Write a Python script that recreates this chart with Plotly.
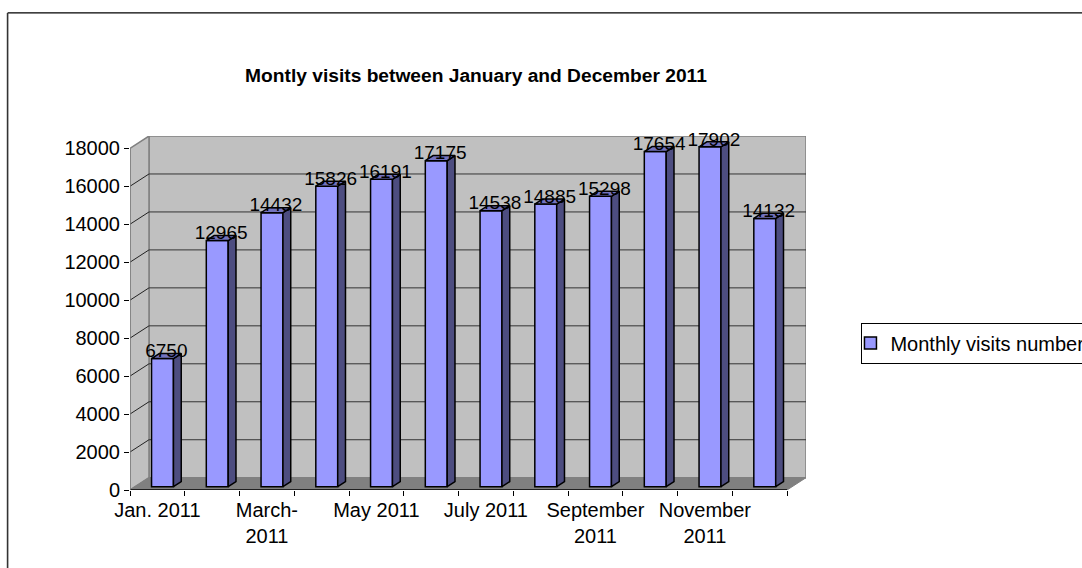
import plotly.graph_objects as go

months = ["Jan. 2011", "Feb. 2011", "March-2011", "April 2011", "May 2011", "June 2011",
          "July 2011", "August 2011", "September 2011", "October 2011", "November 2011", "December 2011"]
visits = [6750, 12965, 14432, 15826, 16191, 17175, 14538, 14885, 15298, 17654, 17902, 14132]
label_positions = [0.5, 2.5, 4.5, 6.5, 8.5, 10.5]
label_texts = ["Jan. 2011", "March-<br>2011", "May 2011", "July 2011", "September<br>2011", "November<br>2011"]
y_ticks = list(range(0, 18001, 2000))
series_name = "Monthly visits number"

W, H = 1130, 568
PX_L, PX_R, PX_B, PX_T = 130.0, 787.5, 490.0, 148.0
DX, DY = 19.0, 12.3
n = len(months)
ux = (PX_R - PX_L) / n
uy = (PX_B - PX_T) / 18000
x_max = n + DX / ux
y_max = 18000 + DY / uy
dxu, dyu = DX / ux, DY / uy
plot_w = x_max * ux
plot_h = y_max * uy


def fx(px):
    return (px - PX_L) / plot_w


def fy(py):
    return (PX_B - py) / plot_h


def proj(c, v, d):
    return c + d * dxu, v + d * dyu


def path(pts):
    return "M" + " L".join(f"{a},{b}" for a, b in pts) + " Z"


shapes = []
wall = "#C0C0C0"
edge = "#808080"
shapes.append(dict(type="path", layer="below", xref="x", yref="y", fillcolor=wall, line=dict(color=edge, width=1.5),
                   path=path([proj(0, 0, 1), proj(n, 0, 1), proj(n, 18000, 1), proj(0, 18000, 1)])))
shapes.append(dict(type="path", layer="below", xref="x", yref="y", fillcolor=wall, line=dict(color=edge, width=1.5),
                   path=path([proj(0, 0, 0), proj(0, 0, 1), proj(0, 18000, 1), proj(0, 18000, 0)])))
shapes.append(dict(type="path", layer="below", xref="x", yref="y", fillcolor=edge, line=dict(color=edge, width=1),
                   path=path([proj(0, 0, 0), proj(n, 0, 0), proj(n, 0, 1), proj(0, 0, 1)])))
for t in y_ticks[1:-1]:
    p0, p1, p2 = proj(0, t, 0), proj(0, t, 1), proj(n, t, 1)
    shapes.append(dict(type="line", layer="below", xref="x", yref="y", x0=p0[0], y0=p0[1], x1=p1[0], y1=p1[1],
                       line=dict(color="#222222", width=1)))
    shapes.append(dict(type="line", layer="below", xref="x", yref="y", x0=p1[0], y0=p1[1], x1=p2[0], y1=p2[1],
                       line=dict(color="#333333", width=1)))
shapes.append(dict(type="line", xref="x", yref="y", x0=0, y0=0, x1=n, y1=0, line=dict(color="black", width=1.3)))
shapes.append(dict(type="line", xref="x", yref="y", x0=0, y0=0, x1=0, y1=18000, line=dict(color=edge, width=1.3)))
# chart-area frame: only left and top sides are visible in the crop
shapes.append(dict(type="line", xref="paper", yref="paper", x0=fx(7.5), x1=fx(W), y0=fy(12.5), y1=fy(12.5),
                   line=dict(color="black", width=1.3), layer="below"))
shapes.append(dict(type="line", xref="paper", yref="paper", x0=fx(7.5), x1=fx(7.5), y0=fy(12.5), y1=fy(H),
                   line=dict(color="#333333", width=1.6), layer="below"))

BAR_W, D0, D1 = 0.4, 0.27, 0.68
fig = go.Figure()
cent = [i + 0.5 for i in range(n)]
fig.add_trace(go.Bar(x=[proj(c, 0, D0)[0] for c in cent], y=visits, base=D0 * dyu, width=BAR_W,
                     marker=dict(color="#9999FF", line=dict(color="black", width=1.5)), name=series_name,
                     hoverinfo="skip"))
sx, sy, tx, ty = [], [], [], []
for c, v in zip(cent, visits):
    l, r = c - BAR_W / 2, c + BAR_W / 2
    quad_side = [proj(r, 0, D0), proj(r, 0, D1), proj(r, v, D1), proj(r, v, D0), proj(r, 0, D0)]
    quad_top = [proj(l, v, D0), proj(r, v, D0), proj(r, v, D1), proj(l, v, D1), proj(l, v, D0)]
    for q, xs, ys in ((quad_side, sx, sy), (quad_top, tx, ty)):
        xs += [a for a, _ in q] + [None]
        ys += [b for _, b in q] + [None]
line = dict(color="black", width=1.5)
fig.add_trace(go.Scatter(x=sx, y=sy, mode="lines", fill="toself", fillcolor="#4D4D80", line=line, showlegend=False, hoverinfo="skip"))
fig.add_trace(go.Scatter(x=tx, y=ty, mode="lines", fill="toself", fillcolor="#7373BF", line=line, showlegend=False, hoverinfo="skip"))
fig.add_trace(go.Scatter(x=[proj(c, v, (D0 + D1) / 2)[0] for c, v in zip(cent, visits)],
                         y=[proj(c, v, D0)[1] + 6 / uy for c, v in zip(cent, visits)],
                         mode="text", text=[str(v) for v in visits], textposition="middle center",
                         textfont=dict(size=19, color="black"), showlegend=False, hoverinfo="skip", cliponaxis=False))
# carrier for category labels
fig.add_trace(go.Scatter(x=label_positions, y=[0] * len(label_positions), xaxis="x2", mode="markers",
                         marker=dict(opacity=0), showlegend=False, hoverinfo="skip"))

font = "Liberation Sans, Arial, sans-serif"
fig.update_layout(
    width=W, height=H, autosize=False,
    paper_bgcolor="white", plot_bgcolor="white",
    font=dict(family=font, size=19, color="black"),
    margin=dict(l=PX_L, r=W - (PX_L + plot_w), t=PX_B - plot_h, b=H - PX_B, autoexpand=False, pad=0),
    title=dict(text="<b>Montly visits between January and December 2011</b>", font=dict(size=19.2),
               x=476 / W, xanchor="center", xref="container", y=1 - 75.5 / H, yanchor="middle"),
    xaxis=dict(range=[0, x_max], tickmode="array", tickvals=list(range(n + 1)), ticktext=[""] * (n + 1),
               ticks="outside", ticklen=5, tickcolor="black", tickwidth=1, showgrid=False, zeroline=False, showline=False),
    xaxis2=dict(range=[0, x_max], overlaying="x", side="bottom", tickmode="array", tickvals=label_positions,
                ticktext=label_texts, ticks="", showgrid=False, zeroline=False, showline=False, tickangle=0,
                tickfont=dict(size=20), ticklabelstandoff=6),
    yaxis=dict(range=[0, y_max], tickmode="array", tickvals=y_ticks, ticktext=[str(t) for t in y_ticks],
               ticks="outside", ticklen=5, tickcolor="black",
               tickwidth=1, showgrid=False, zeroline=False, showline=False, tickfont=dict(size=20)),
    shapes=shapes,
    showlegend=True,
    legend=dict(x=fx(862), xref="paper", xanchor="left", y=fy(343), yanchor="middle", bgcolor="white",
                bordercolor="black", borderwidth=1, indentation=-12, font=dict(size=20)),
)
fig.write_html("out.html", config={"displayModeBar": False},
               post_script="document.body.style.margin='0';document.body.style.overflow='hidden';document.documentElement.style.overflow='hidden';")
